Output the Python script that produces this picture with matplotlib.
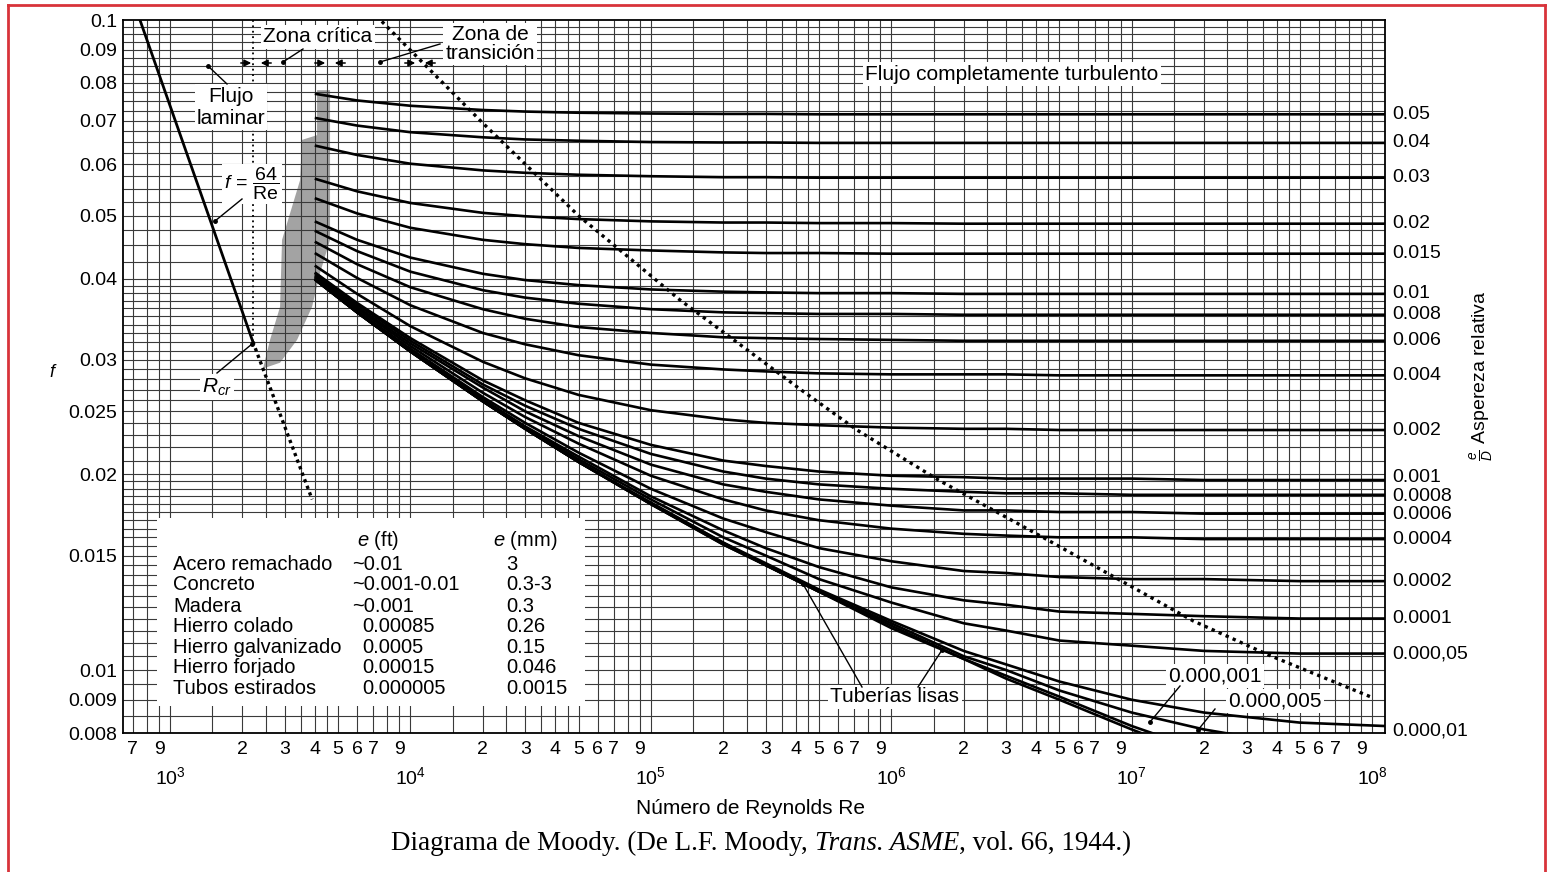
import matplotlib
matplotlib.use('Agg')
import matplotlib.pyplot as plt
from matplotlib.transforms import blended_transform_factory
from matplotlib.lines import Line2D
from matplotlib.patches import Rectangle, Polygon, FancyArrowPatch
from matplotlib.ticker import NullLocator

plt.rcParams['font.family'] = ['Liberation Sans', 'DejaVu Sans']
plt.rcParams['mathtext.fontset'] = 'custom'
plt.rcParams['mathtext.rm'] = 'Liberation Sans'
plt.rcParams['mathtext.it'] = 'Liberation Sans:italic'
plt.rcParams['mathtext.bf'] = 'Liberation Sans:bold'

# ---------------- data ----------------
RE_POINTS = [4e3, 6e3, 1e4, 2e4, 3e4, 5e4, 1e5, 2e5, 3e5, 5e5, 1e6, 2e6, 3e6, 5e6, 1e7, 2e7, 5e7, 1.13e8]

f_0_05   = [0.0770, 0.0752, 0.0738, 0.0727, 0.0723, 0.0720, 0.0718, 0.0717, 0.0717, 0.0716, 0.0716, 0.0716, 0.0716, 0.0716, 0.0716, 0.0716, 0.0716, 0.0716]
f_0_04   = [0.0707, 0.0688, 0.0672, 0.0660, 0.0655, 0.0652, 0.0649, 0.0648, 0.0648, 0.0647, 0.0647, 0.0647, 0.0647, 0.0647, 0.0647, 0.0647, 0.0647, 0.0647]
f_0_03   = [0.0641, 0.0620, 0.0601, 0.0587, 0.0582, 0.0578, 0.0575, 0.0573, 0.0573, 0.0572, 0.0572, 0.0572, 0.0572, 0.0572, 0.0572, 0.0572, 0.0572, 0.0572]
f_0_02   = [0.0570, 0.0545, 0.0523, 0.0505, 0.0499, 0.0494, 0.0490, 0.0488, 0.0488, 0.0487, 0.0487, 0.0486, 0.0486, 0.0486, 0.0486, 0.0486, 0.0486, 0.0486]
f_0_015  = [0.0532, 0.0504, 0.0479, 0.0459, 0.0452, 0.0446, 0.0442, 0.0439, 0.0438, 0.0438, 0.0437, 0.0437, 0.0437, 0.0437, 0.0437, 0.0437, 0.0437, 0.0437]
f_0_01   = [0.0490, 0.0459, 0.0431, 0.0407, 0.0398, 0.0391, 0.0385, 0.0382, 0.0381, 0.0380, 0.0380, 0.0379, 0.0379, 0.0379, 0.0379, 0.0379, 0.0379, 0.0379]
f_0_008  = [0.0474, 0.0441, 0.0410, 0.0384, 0.0374, 0.0366, 0.0359, 0.0355, 0.0354, 0.0353, 0.0353, 0.0352, 0.0352, 0.0352, 0.0352, 0.0352, 0.0352, 0.0352]
f_0_006  = [0.0456, 0.0421, 0.0388, 0.0359, 0.0347, 0.0337, 0.0330, 0.0325, 0.0324, 0.0323, 0.0322, 0.0321, 0.0321, 0.0321, 0.0321, 0.0321, 0.0321, 0.0321]
f_0_004  = [0.0438, 0.0401, 0.0364, 0.0330, 0.0317, 0.0305, 0.0295, 0.0290, 0.0288, 0.0286, 0.0285, 0.0285, 0.0285, 0.0284, 0.0284, 0.0284, 0.0284, 0.0284]
f_0_002  = [0.0419, 0.0379, 0.0338, 0.0298, 0.0281, 0.0265, 0.0251, 0.0243, 0.0240, 0.0238, 0.0236, 0.0235, 0.0235, 0.0234, 0.0234, 0.0234, 0.0234, 0.0234]
f_0_001  = [0.0409, 0.0367, 0.0324, 0.0279, 0.0260, 0.0240, 0.0222, 0.0210, 0.0206, 0.0202, 0.0199, 0.0198, 0.0197, 0.0197, 0.0197, 0.0196, 0.0196, 0.0196]
f_0_0008 = [0.0408, 0.0365, 0.0321, 0.0275, 0.0255, 0.0235, 0.0215, 0.0202, 0.0197, 0.0193, 0.0190, 0.0188, 0.0187, 0.0187, 0.0186, 0.0186, 0.0186, 0.0186]
f_0_0006 = [0.0405, 0.0362, 0.0318, 0.0272, 0.0250, 0.0229, 0.0207, 0.0193, 0.0188, 0.0183, 0.0179, 0.0176, 0.0176, 0.0175, 0.0175, 0.0174, 0.0174, 0.0174]
f_0_0004 = [0.0403, 0.0360, 0.0315, 0.0267, 0.0245, 0.0223, 0.0199, 0.0183, 0.0176, 0.0170, 0.0165, 0.0162, 0.0161, 0.0160, 0.0160, 0.0159, 0.0159, 0.0159]
f_0_0002 = [0.0401, 0.0357, 0.0312, 0.0263, 0.0240, 0.0216, 0.0190, 0.0171, 0.0163, 0.0154, 0.0147, 0.0142, 0.0141, 0.0139, 0.0138, 0.0138, 0.0137, 0.0137]
f_0_0001 = [0.0400, 0.0356, 0.0310, 0.0261, 0.0237, 0.0213, 0.0185, 0.0164, 0.0154, 0.0144, 0.0134, 0.0128, 0.0126, 0.0123, 0.0122, 0.0121, 0.0120, 0.0120]
f_5e_5   = [0.0400, 0.0355, 0.0310, 0.0260, 0.0236, 0.0211, 0.0183, 0.0160, 0.0150, 0.0138, 0.0127, 0.0118, 0.0115, 0.0111, 0.0109, 0.0107, 0.0106, 0.0106]
f_1e_5   = [0.0399, 0.0355, 0.0309, 0.0259, 0.0235, 0.0209, 0.0181, 0.0157, 0.0146, 0.0133, 0.0119, 0.0107, 0.0102, 0.0096, 0.0090, 0.0086, 0.0083, 0.0082]
f_5e_6   = [0.0399, 0.0355, 0.0309, 0.0259, 0.0235, 0.0209, 0.0180, 0.0157, 0.0145, 0.0132, 0.0118, 0.0105, 0.0100, 0.0093, 0.0086, 0.0081, 0.00765, 0.0074]
f_1e_6   = [0.0399, 0.0355, 0.0309, 0.0259, 0.0235, 0.0209, 0.0180, 0.0156, 0.0145, 0.0132, 0.0117, 0.0104, 0.0098, 0.0091, 0.0082, 0.0075, 0.0068, 0.0064]
f_smooth = [0.0399, 0.0355, 0.0309, 0.0259, 0.0235, 0.0209, 0.0180, 0.0156, 0.0145, 0.0132, 0.0116, 0.0104, 0.0097, 0.0090, 0.0081, 0.00735, 0.0065, 0.0059]

labeled_curves = [f_0_05, f_0_04, f_0_03, f_0_02, f_0_015, f_0_01, f_0_008, f_0_006,
                  f_0_004, f_0_002, f_0_001, f_0_0008, f_0_0006, f_0_0004, f_0_0002,
                  f_0_0001, f_5e_5, f_1e_5]
right_labels = ['0.05', '0.04', '0.03', '0.02', '0.015', '0.01', '0.008', '0.006',
                '0.004', '0.002', '0.001', '0.0008', '0.0006', '0.0004', '0.0002',
                '0.0001', '0.000,05', '0.000,01']
unlabeled_curves = [f_5e_6, f_1e_6, f_smooth]

laminar_re = [750, 2210]
laminar_f = [0.100, 0.0320]
laminar_ext_re = [2210, 3900]
laminar_ext_f = [0.0320, 0.0183]
rcr_line_re = [2210, 2210]
rcr_line_f = [0.100, 0.0320]

boundary_re = [7.6e3, 2.0e4, 5.0e4, 1.32e5, 4.2e5, 7.2e5, 1.57e6, 4.4e6, 1.8e7, 3.7e7, 9.8e7]
boundary_f = [0.0995, 0.0694, 0.0500, 0.0371, 0.0270, 0.0234, 0.0196, 0.0159, 0.0119, 0.01055, 0.0091]

band_re = [4088, 4630, 4630, 4207, 3897, 3376, 2869, 2438, 2606, 2869, 2924, 3475, 3541, 4088]
band_f = [0.0780, 0.0780, 0.0459, 0.0408, 0.0362, 0.0322, 0.0297, 0.0291, 0.0322, 0.0362, 0.0459, 0.0567, 0.0654, 0.0665]

y_ticks = [0.008, 0.009, 0.01, 0.015, 0.02, 0.025, 0.03, 0.04, 0.05, 0.06, 0.07, 0.08, 0.09, 0.1]
y_tick_labels = ['0.008', '0.009', '0.01', '0.015', '0.02', '0.025', '0.03', '0.04',
                 '0.05', '0.06', '0.07', '0.08', '0.09', '0.1']
x_digits = [2, 3, 4, 5, 6, 7, 9]
x_decades = [3, 4, 5, 6, 7, 8]

table_materials = ['Acero remachado', 'Concreto', 'Madera', 'Hierro colado',
                   'Hierro galvanizado', 'Hierro forjado', 'Tubos estirados']
table_e_ft = ['~0.01', '~0.001-0.01', '~0.001', '0.00085', '0.0005', '0.00015', '0.000005']
table_e_mm = ['3', '0.3-3', '0.3', '0.26', '0.15', '0.046', '0.0015']

# ---------------- figure ----------------
W, H = 1549, 872
fig = plt.figure(figsize=(W / 100, H / 100), dpi=100)
fig.patch.set_facecolor('white')


def P(x, y):
    return (x / W, 1 - y / H)


L, R, T, B = 123, 1385, 20, 733
ax = fig.add_axes([L / W, 1 - B / H, (R - L) / W, (B - T) / H])
ax.set_xscale('log')
ax.set_yscale('log')
ax.set_xlim(637.5, 1.13e8)
ax.set_ylim(0.008, 0.1)
ax.xaxis.set_minor_locator(NullLocator())
ax.yaxis.set_minor_locator(NullLocator())

# grid
vgrid = []
for k in range(2, 9):
    for m in [1, 1.5, 2, 2.5, 3, 3.5, 4, 4.5, 5, 6, 7, 8, 9]:
        v = m * 10 ** k
        if 640 < v < 1.12e8:
            vgrid.append(v)
hgrid = []
hgrid += [0.008 + 0.0005 * i for i in range(4)]
hgrid += [0.010 + 0.0005 * i for i in range(20)]
hgrid += [0.020 + 0.001 * i for i in range(20)]
hgrid += [0.040 + 0.0025 * i for i in range(24)]
ax.vlines(vgrid, 0.008, 0.1, colors='#3a3a3a', linewidth=0.8, zorder=1)
ax.hlines(hgrid, 637.5, 1.13e8, colors='#3a3a3a', linewidth=0.8, zorder=1)

# critical zone shading (under the grid)
ax.add_patch(Polygon(list(zip(band_re, band_f)), closed=True, facecolor='#a3a3a3',
                     edgecolor='none', zorder=0.5))

# table background
ax.add_patch(Rectangle(((157 - L) / (R - L), (B - 706) / (B - T)),
                       (585 - 157) / (R - L), (706 - 518) / (B - T),
                       transform=ax.transAxes, facecolor='white', edgecolor='none', zorder=3))

# curves
for fv in labeled_curves + unlabeled_curves:
    ax.plot(RE_POINTS, fv, color='black', linewidth=1.9, zorder=5, solid_capstyle='butt')

# laminar
ax.plot(laminar_re, laminar_f, color='black', linewidth=2.0, zorder=5)
ax.plot(laminar_ext_re, laminar_ext_f, color='black', linewidth=2.4,
        linestyle=(0, (1.0, 1.1)), zorder=5)
ax.plot(rcr_line_re, rcr_line_f, color='black', linewidth=1.3,
        linestyle=(0, (1.0, 2.0)), zorder=4)
ax.plot(boundary_re, boundary_f, color='black', linewidth=2.4,
        linestyle=(0, (1.0, 1.3)), zorder=5)

# ticks & labels
ax.set_yticks(y_ticks)
ax.set_yticklabels(y_tick_labels)
ax.tick_params(axis='y', length=0, pad=4, labelsize=14)
xt, xl = [], []
for v in [7e2, 9e2]:
    xt.append(v); xl.append(str(int(v / 100)))
for k in range(3, 8):
    for d in x_digits:
        xt.append(d * 10 ** k); xl.append(str(d))
ax.set_xticks(xt)
ax.set_xticklabels(xl)
ax.tick_params(axis='x', length=0, pad=6, labelsize=14)
trans_xd = blended_transform_factory(ax.transData, ax.transAxes)
for n in x_decades:
    ax.text(10 ** n, -0.062, r'$10^{%d}$' % n, transform=trans_xd,
            ha='center', va='center', fontsize=14)

for sp in ax.spines.values():
    sp.set_linewidth(1.3)
    sp.set_color('black')

trans_yd = blended_transform_factory(ax.transAxes, ax.transData)
label_f = [fv[-1] for fv in labeled_curves]
label_f[10] = 0.01981   # 0.001 label nudged up
label_f[11] = 0.01852   # 0.0008
label_f[12] = 0.01732   # 0.0006
label_f[-1] = 0.00805
for yv, lbl in zip(label_f, right_labels):
    ax.text(1.006, yv, lbl, transform=trans_yd, ha='left', va='center', fontsize=14)

fig.text(*P(750, 808), 'Número de Reynolds Re', ha='center', va='center', fontsize=15)
fig.text(*P(52, 372), 'f', ha='center', va='center', fontsize=13, style='italic')
fig.text(*P(1482, 376), r'$\frac{e}{D}$ Aspereza relativa', ha='center', va='center',
         fontsize=14, rotation=90)

# annotations
wb = dict(facecolor='white', edgecolor='none', pad=1.5)
fs = 15
fig.text(*P(318, 37), 'Zona crítica', ha='center', va='center', fontsize=fs, bbox=wb, zorder=6)
fig.text(*P(490, 44), 'Zona de\ntransición', ha='center', va='center', fontsize=fs,
         bbox=wb, linespacing=1.0, zorder=6)
fig.text(*P(231, 107), 'Flujo\nlaminar', ha='center', va='center', fontsize=fs,
         bbox=wb, linespacing=1.2, zorder=6)
fig.text(*P(1012, 74), 'Flujo completamente turbulento', ha='center', va='center',
         fontsize=fs, bbox=wb, zorder=6)
fig.text(*P(252, 184), r'$f\,=\,\dfrac{64}{\mathrm{Re}}$', ha='center', va='center',
         fontsize=14, bbox=wb, zorder=6)
fig.text(*P(217, 387), r'$R_{cr}$', ha='center', va='center', fontsize=15, bbox=wb, zorder=6)
fig.text(*P(895, 697), 'Tuberías lisas', ha='center', va='center', fontsize=fs, bbox=wb, zorder=6)
fig.text(*P(1215, 676), '0.000,001', ha='center', va='center', fontsize=fs, bbox=wb, zorder=6)
fig.text(*P(1275, 701), '0.000,005', ha='center', va='center', fontsize=fs, bbox=wb, zorder=6)

leaders = [((227, 84), (208, 66)), ((303, 49), (283, 62)), ((440, 44), (380, 62)),
           ((242, 199), (215, 221)), ((217, 373), (252, 344)),
           ((862, 687), (803, 584)), ((918, 687), (942, 650)),
           ((1180, 686), (1150, 722)), ((1215, 709), (1198, 730))]
for (x0, y0), (x1, y1) in leaders:
    fig.add_artist(Line2D([x0 / W, x1 / W], [1 - y0 / H, 1 - y1 / H], color='black',
                          linewidth=1.0, zorder=7))
    fig.add_artist(Line2D([x1 / W], [1 - y1 / H], marker='o', markersize=2.5,
                          color='black', zorder=7))

for bx in [256, 330, 420]:
    for sgn in (-1, 1):
        fig.add_artist(FancyArrowPatch(
            P(bx + sgn * 18, 63), P(bx + sgn * 2, 63), arrowstyle='-|>',
            mutation_scale=10, color='black', linewidth=1.1, transform=fig.transFigure,
            zorder=7))

# table text
tfs = 14.5
fig.text(*P(378, 540), '$e$ (ft)', ha='center', va='center', fontsize=tfs)
fig.text(*P(525, 540), '$e$ (mm)', ha='center', va='center', fontsize=tfs)
rows_y = [564, 585, 606, 626, 647, 667, 688]
for yy, m, eft, emm in zip(rows_y, table_materials, table_e_ft, table_e_mm):
    fig.text(*P(173, yy), m, ha='left', va='center', fontsize=tfs)
    fig.text(*P(352 if eft.startswith('~') else 362, yy), eft, ha='left', va='center', fontsize=tfs)
    fig.text(*P(506, yy), emm, ha='left', va='center', fontsize=tfs)

# caption with italic part
renderer = fig.canvas.get_renderer()
cfs = 19.5
parts = [('Diagrama de Moody. (De L.F. Moody,', 'normal'), ('Trans. ASME', 'italic'),
         (', vol. 66, 1944.)', 'normal')]
texts = []
for s, st in parts:
    texts.append(fig.text(0, 0, s, fontfamily='Liberation Serif', fontsize=cfs,
                          style=st, ha='left', va='baseline'))
widths = [t.get_window_extent(renderer).width for t in texts]
gap = cfs * 100 / 72 * 0.25
total = sum(widths) + gap
x = 761 - total / 2
for i, t in enumerate(texts):
    t.set_position((x / W, 1 - 850 / H))
    x += widths[i] + (gap if i == 0 else 0)

# red border
for xs, ys in [([8, 8], [5, 872]), ([8, 1545], [5, 5]), ([1545, 1545], [5, 872])]:
    fig.add_artist(Line2D([v / W for v in xs], [1 - v / H for v in ys],
                          color='#d8333a', linewidth=2.0))

fig.savefig('out.png', dpi=100, facecolor='white')
